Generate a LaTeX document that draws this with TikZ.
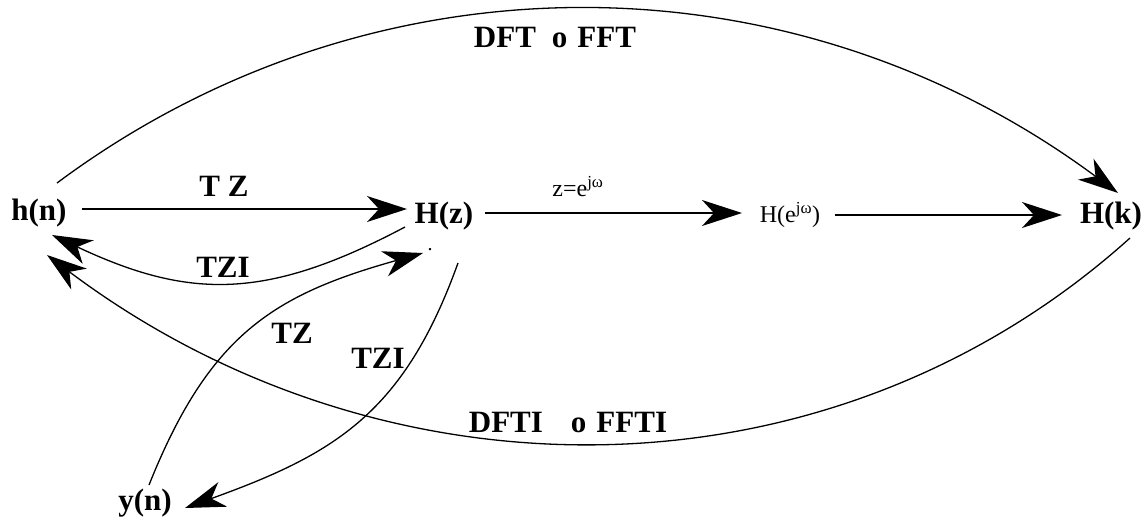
\documentclass[tikz,border=0pt]{standalone}
\usepackage{fontspec}
\setmainfont{Liberation Serif}
\usetikzlibrary{arrows.meta,calc}
\tikzset{
  arr/.style={line width=1.3pt,-{Stealth[length=40pt,width=26pt,inset=12pt]}},
  bold/.style={font=\bfseries\fontsize{31}{32}\selectfont,inner sep=0pt},
  reg/.style={font=\fontsize{24}{25}\selectfont,inner sep=0pt},
}
\begin{document}
\begin{tikzpicture}[x=1pt,y=-1pt]
\useasboundingbox (0,0) rectangle (1146,520);
% main nodes
\node[bold] (hn) at (39,213) {h(n)};
\node[bold] (Hz) at (444,216) {H(z)};
\node[reg]  (He) at (790,215) {H(e\textsuperscript{jω})};
\node[bold] (Hk) at (1111,216) {H(k)};
\node[bold] (yn) at (145,503) {y(n)};
\node[font=\fontsize{20}{20}\selectfont,inner sep=0pt] (dot) at (430,250) {.};
% labels
\node[bold] (lTZa) at (224,186) {T Z};
\node[bold] (lTZIa) at (223,267) {TZI};
\node[bold] (lTZb) at (292,333) {TZ};
\node[bold] (lTZIb) at (378,358) {TZI};
\node[bold] (lDFT) at (555,37) {DFT\hspace{16pt}o\hspace{10pt}FFT};
\node[bold] (lDFTI) at (568,422) {DFTI\hspace{28pt}o\hspace{10pt}FFTI};
\node[reg] (lz) at (578,187) {z=e\textsuperscript{jω}};
% straight connectors
\draw[arr] ($(hn.center)+(43,-4)$) -- ($(Hz.center)+(-37,-7)$);
\draw[arr] ($(Hz.center)+(41,-3)$) -- ($(He.center)+(-48,-2)$);
\draw[arr] ($(He.center)+(45,0)$) -- ($(Hk.center)+(-49,-1)$);
% DFT / DFTI
\draw[arr] ($(hn.center)+(18,-30)$) .. controls (370,-50) and (790,-50) .. ($(Hk.center)+(7,-23)$);
\draw[arr] ($(Hk.center)+(19,22)$) .. controls (830,508) and (384,508) .. ($(hn.center)+(8,42)$);
% TZI upper
\draw[arr] ($(Hz.center)+(-39,11)$) .. controls (267,300) and (190,300) .. ($(hn.center)+(13,22)$);
% TZ y(n) -> H(z)
\draw[arr] ($(yn.center)+(4,-18)$) .. controls (209,335) and (273,295) .. ($(Hz.center)+(-21,37)$);
% TZI H(z) -> y(n)
\draw[arr] ($(Hz.center)+(14,47)$) .. controls (404,413) and (335,454) .. ($(yn.center)+(40,5)$);
\end{tikzpicture}
\end{document}
